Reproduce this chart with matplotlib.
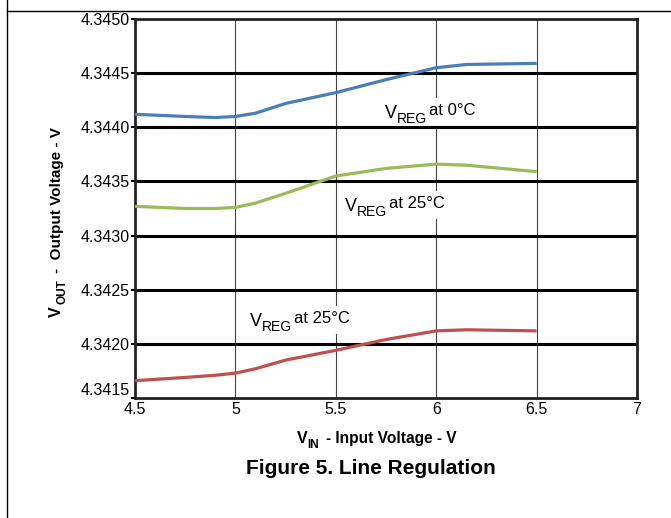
import matplotlib
matplotlib.use("Agg")
import matplotlib.pyplot as plt
from matplotlib.lines import Line2D
from matplotlib.patches import Rectangle
from matplotlib.transforms import offset_copy

plt.rcParams['font.family'] = ['Liberation Sans', 'DejaVu Sans']

# data
v_in = [4.5, 4.75, 4.9, 5.0, 5.1, 5.25, 5.5, 5.75, 6.0, 6.15, 6.5]
vreg_0c = [4.34412, 4.34410, 4.34409, 4.34410, 4.34413, 4.34422, 4.34432,
           4.34444, 4.34455, 4.34458, 4.34459]
vreg_25c_a = [4.34327, 4.34325, 4.34325, 4.34326, 4.34330, 4.34339, 4.34355,
              4.34362, 4.34366, 4.34365, 4.34359]
vreg_25c_b = [4.34166, 4.34169, 4.34171, 4.34173, 4.34177, 4.34185, 4.34194,
              4.34204, 4.34212, 4.34213, 4.34212]

x_ticks = [4.5, 5, 5.5, 6, 6.5, 7]
x_ticklabels = ['4.5', '5', '5.5', '6', '6.5', '7']
y_ticks = [4.3415, 4.3420, 4.3425, 4.3430, 4.3435, 4.3440, 4.3445, 4.3450]

W, H = 671, 518
fig = plt.figure(figsize=(W / 100, H / 100), dpi=100)
ax = fig.add_axes([135 / W, 1 - 398 / H, 502 / W, 379 / H])

ax.plot(v_in, vreg_0c, color='#4a7ebb', lw=2.3, solid_capstyle='butt', zorder=4)
ax.plot(v_in, vreg_25c_a, color='#9bbb59', lw=2.3, solid_capstyle='butt', zorder=4)
ax.plot(v_in, vreg_25c_b, color='#c0504d', lw=2.3, solid_capstyle='butt', zorder=4)

ax.set_xlim(4.5, 7)
ax.set_ylim(4.3415, 4.3450)
ax.set_xticks(x_ticks)
ax.set_xticklabels(x_ticklabels)
ax.set_yticks(y_ticks)
ax.set_yticklabels([f'{v:.4f}' for v in y_ticks])
ax.tick_params(axis='x', labelsize=11.5, length=0, pad=3)
ax.tick_params(axis='y', labelsize=11.5, length=3, width=1.5, direction='out', pad=1)
# lowest y label sits just above the x labels
ax.get_yticklabels()[0].set_va('bottom')

# grid: thin vertical, thick horizontal
for xv in x_ticks[1:-1]:
    ax.axvline(xv, color='#444444', lw=0.8, zorder=1)
for yv in y_ticks[1:-1]:
    ax.axhline(yv, color='black', lw=2.2, zorder=2)

for s in ax.spines.values():
    s.set_linewidth(2)
    s.set_color('#222222')


def curve_label(x, y, temp):
    # white box behind the label hides the thin vertical grid
    ax.add_patch(Rectangle((x - 0.02, y - 0.00007), 0.5, 0.00025,
                           facecolor='white', edgecolor='none', zorder=1.5))
    ax.text(x, y, 'V', fontsize=13, ha='left', va='baseline', zorder=5)
    ax.text(x, y, 'REG', fontsize=10, ha='left', va='baseline', zorder=5,
            transform=offset_copy(ax.transData, fig, x=12, y=-5, units='dots'))
    ax.text(x, y, 'at ' + temp, fontsize=12, ha='left', va='baseline', zorder=5,
            transform=offset_copy(ax.transData, fig, x=44, y=3, units='dots'))


curve_label(5.745, 4.344086, '0°C')
curve_label(5.546, 4.343227, '25°C')
curve_label(5.073, 4.342165, '25°C')

# x label
fig.text(297 / W, 1 - 443 / H, 'V', fontsize=11.5, fontweight='bold',
         ha='left', va='baseline')
fig.text(307 / W, 1 - 448 / H, 'IN', fontsize=8.5, fontweight='bold',
         ha='left', va='baseline')
fig.text(326 / W, 1 - 443 / H, '- Input Voltage - V', fontsize=11.2,
         fontweight='bold', ha='left', va='baseline')

# y label
fig.text(61 / W, 1 - 317 / H, 'V', fontsize=11.5, fontweight='bold', rotation=90,
         rotation_mode='anchor', ha='left', va='baseline')
fig.text(65 / W, 1 - 304 / H, 'OUT', fontsize=8.5, fontweight='bold', rotation=90,
         rotation_mode='anchor', ha='left', va='baseline')
fig.text(61 / W, 1 - 273 / H, '-  Output Voltage - V', fontsize=11,
         fontweight='bold', rotation=90, rotation_mode='anchor', ha='left',
         va='baseline')

fig.text(371 / W, 1 - 474 / H, 'Figure 5. Line Regulation', ha='center',
         va='baseline', fontsize=15, fontweight='bold')

# page frame lines
fig.add_artist(Line2D([7 / W, 7 / W], [0, 1], color='black', lw=1))
fig.add_artist(Line2D([7 / W, 1], [1 - 11 / H, 1 - 11 / H], color='black', lw=1))

fig.savefig('out.png', dpi=100)
